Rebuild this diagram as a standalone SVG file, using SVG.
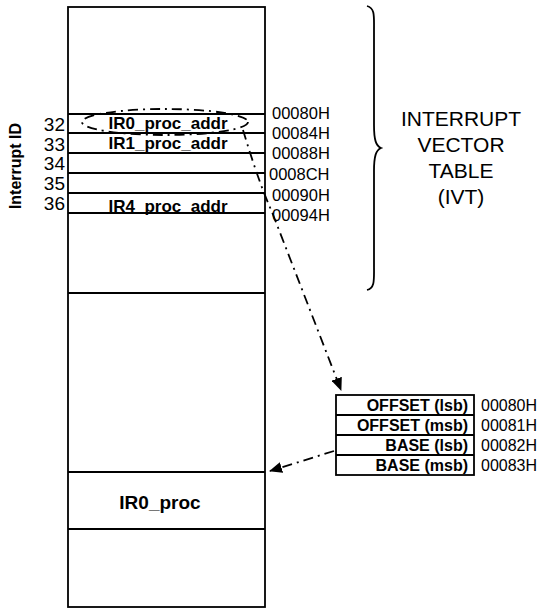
<svg xmlns="http://www.w3.org/2000/svg" width="544" height="612" viewBox="0 0 544 612">
<defs>
<style>
.ln{stroke:#000;stroke-width:1.8;fill:none}
.dd{stroke:#000;stroke-width:1.8;fill:none;stroke-dasharray:10,5,2,5}
.t{font-family:"Liberation Sans",Arial,sans-serif;fill:#000}
.b{font-weight:bold}
</style>
<marker id="ah" markerWidth="13" markerHeight="11" refX="12" refY="5.5" orient="auto" markerUnits="userSpaceOnUse">
<path d="M0,0 L13,5.5 L0,11 Z" fill="#000"/>
</marker>
</defs>
<rect width="544" height="612" fill="#fff"/>
<g id="memory">
<rect class="ln" x="68" y="7" width="197" height="600" fill="#fff"/>
<line class="ln" x1="68" y1="114" x2="265" y2="114"/>
<line class="ln" x1="68" y1="133" x2="265" y2="133"/>
<line class="ln" x1="68" y1="153" x2="265" y2="153"/>
<line class="ln" x1="68" y1="173" x2="265" y2="173"/>
<line class="ln" x1="68" y1="193" x2="265" y2="193"/>
<line class="ln" x1="68" y1="213" x2="265" y2="213"/>
<line class="ln" x1="68" y1="293" x2="265" y2="293"/>
<line class="ln" x1="68" y1="472" x2="265" y2="472"/>
<line class="ln" x1="68" y1="529" x2="265" y2="529"/>
<text class="t b" x="168" y="129" font-size="17" text-anchor="middle">IR0_proc_addr</text>
<text class="t b" x="168" y="149" font-size="17" text-anchor="middle">IR1_proc_addr</text>
<text class="t b" x="168" y="212" font-size="17" text-anchor="middle">IR4_proc_addr</text>
<text class="t b" x="160" y="509" font-size="19" text-anchor="middle">IR0_proc</text>
</g>
<g id="ids">
<text class="t b" x="21" y="166" font-size="16" text-anchor="middle" transform="rotate(-90 21 166)">Interrupt ID</text>
<text class="t" x="65" y="131" font-size="19" text-anchor="end">32</text>
<text class="t" x="65" y="151" font-size="19" text-anchor="end">33</text>
<text class="t" x="65" y="170" font-size="19" text-anchor="end">34</text>
<text class="t" x="65" y="190" font-size="19" text-anchor="end">35</text>
<text class="t" x="65" y="210" font-size="19" text-anchor="end">36</text>
</g>
<g id="addresses">
<text class="t" x="272" y="119" font-size="16.5">00080H</text>
<text class="t" x="272" y="139" font-size="16.5">00084H</text>
<text class="t" x="272" y="159" font-size="16.5">00088H</text>
<text class="t" x="269" y="180" font-size="16.5">0008CH</text>
<text class="t" x="272" y="201" font-size="16.5">00090H</text>
<text class="t" x="272" y="221" font-size="16.5">00094H</text>
</g>
<g id="ivt">
<path class="ln" d="M367,6 C375,8 374,16 374,30 L374,125 C374,140 376,146 381,148 C376,150 374,156 374,171 L374,266 C374,280 375,288 367,290"/>
<text class="t" x="461" y="126" font-size="21" text-anchor="middle">INTERRUPT</text>
<text class="t" x="461" y="152" font-size="21" text-anchor="middle">VECTOR</text>
<text class="t" x="461" y="178" font-size="21" text-anchor="middle">TABLE</text>
<text class="t" x="461" y="204" font-size="21" text-anchor="middle">(IVT)</text>
</g>
<g id="vector">
<rect class="ln" x="336" y="395" width="138" height="80" fill="#fff"/>
<line class="ln" x1="336" y1="415" x2="474" y2="415"/>
<line class="ln" x1="336" y1="435" x2="474" y2="435"/>
<line class="ln" x1="336" y1="455" x2="474" y2="455"/>
<text class="t b" x="468" y="411" font-size="16" text-anchor="end">OFFSET (lsb)</text>
<text class="t b" x="468" y="431" font-size="16" text-anchor="end">OFFSET (msb)</text>
<text class="t b" x="468" y="451" font-size="16" text-anchor="end">BASE (lsb)</text>
<text class="t b" x="468" y="471" font-size="16" text-anchor="end">BASE (msb)</text>
<text class="t" x="481" y="411" font-size="16">00080H</text>
<text class="t" x="481" y="431" font-size="16">00081H</text>
<text class="t" x="481" y="451" font-size="16">00082H</text>
<text class="t" x="481" y="471" font-size="16">00083H</text>
</g>
<g id="connectors">
<ellipse class="dd" cx="165" cy="122" rx="83" ry="13"/>
<path class="dd" d="M243,130 C252,160 262,190 272,212 L341,390" marker-end="url(#ah)"/>
<path class="dd" d="M334,451 L270,471" marker-end="url(#ah)"/>
</g>
</svg>
